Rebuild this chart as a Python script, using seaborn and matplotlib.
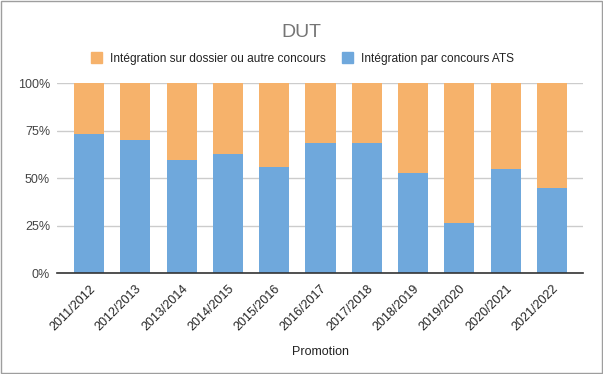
import pandas as pd
import matplotlib.pyplot as plt
import matplotlib.patches as mpatches
import seaborn as sns
from matplotlib.ticker import PercentFormatter

promotions = ["2011/2012", "2012/2013", "2013/2014", "2014/2015", "2015/2016",
              "2016/2017", "2017/2018", "2018/2019", "2019/2020", "2020/2021", "2021/2022"]
ats_pct = [73.4, 69.8, 59.3, 62.9, 55.6, 68.2, 68.2, 52.4, 26.2, 54.5, 44.6]
other_pct = [100 - v for v in ats_pct]

BLUE = "#6fa8dc"
ORANGE = "#f6b26b"

df = pd.DataFrame({"promotion": promotions, "ats": ats_pct, "other": other_pct})
df["total"] = df["ats"] + df["other"]

sns.set_style("white")
plt.rcParams['font.family'] = ['Liberation Sans', 'DejaVu Sans']

fig = plt.figure(figsize=(6.03, 3.74), dpi=100)
ax = fig.add_axes([0.0945, 0.270, 0.8725, 0.508])

# stacked bars: full height first (orange), then blue on top of it
sns.barplot(data=df, x="promotion", y="total", color=ORANGE, width=0.65,
            saturation=1, linewidth=0, ax=ax, zorder=2)
sns.barplot(data=df, x="promotion", y="ats", color=BLUE, width=0.65,
            saturation=1, linewidth=0, ax=ax, zorder=3)

ax.set_ylim(0, 100)
ax.set_xlim(-0.69, 10.67)
ax.set_yticks([0, 25, 50, 75, 100])
ax.yaxis.set_major_formatter(PercentFormatter(decimals=0))
ax.grid(axis="y", color="#cccccc", linewidth=1, zorder=0)
ax.set_axisbelow(True)
for s in ["top", "right", "left"]:
    ax.spines[s].set_visible(False)
ax.spines["bottom"].set_color("#333333")
ax.spines["bottom"].set_linewidth(1.2)
ax.spines["bottom"].set_zorder(5)

ax.tick_params(axis="y", length=0, labelsize=9, labelcolor="#444444", pad=5)
ax.tick_params(axis="x", length=0, labelsize=9, labelcolor="#222222", pad=7)
plt.setp(ax.get_xticklabels(), rotation=45, ha="right", rotation_mode="anchor")
ax.set_ylabel("")
ax.set_xlabel("Promotion", fontsize=9, color="#222222", labelpad=9)

fig.text(0.5, 0.912, "DUT", ha="center", va="center", fontsize=14, color="#757575")

handles = [mpatches.Patch(color=ORANGE, label="Intégration sur dossier ou autre concours"),
           mpatches.Patch(color=BLUE, label="Intégration par concours ATS")]
fig.legend(handles=handles, loc="center", bbox_to_anchor=(0.502, 0.843), ncol=2,
           frameon=False, fontsize=8.6, handlelength=0.85, handleheight=1.05,
           handletextpad=0.7, columnspacing=1.4, labelcolor="#222222")

# grey frame around the whole figure
fig.patches.append(mpatches.Rectangle((0.001, 0.002), 0.997, 0.996, transform=fig.transFigure,
                                      fill=False, edgecolor="#9e9e9e", linewidth=1))

fig.savefig("out.png", dpi=100)
